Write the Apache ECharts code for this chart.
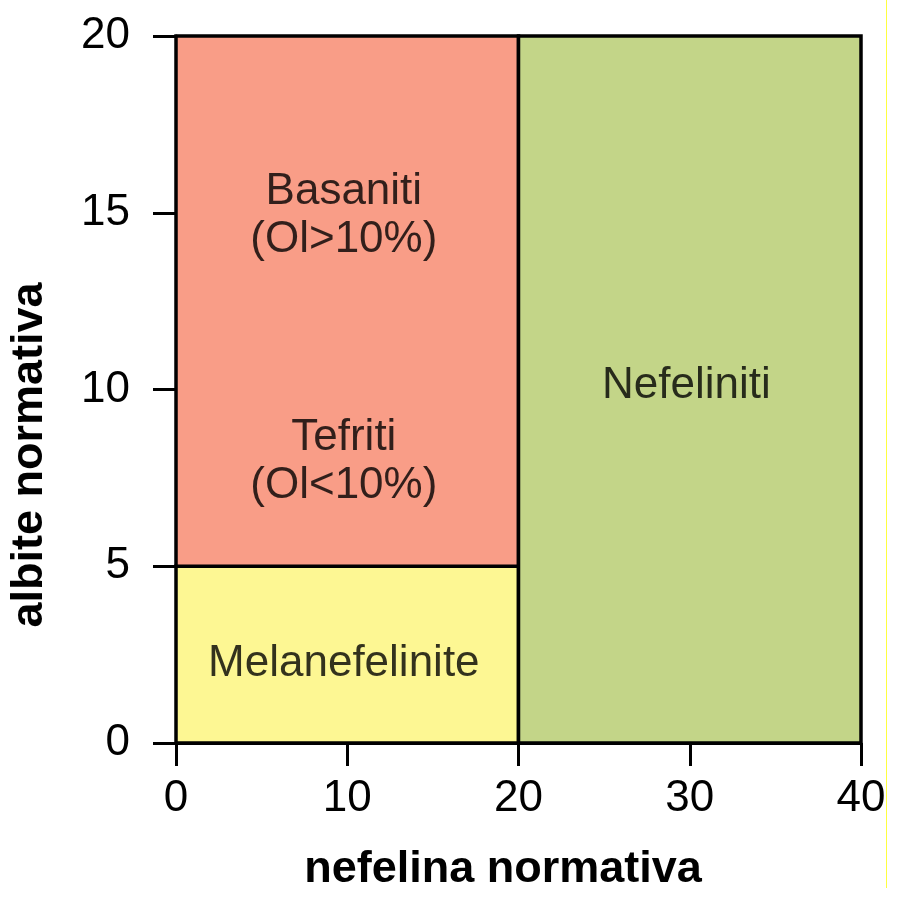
<!DOCTYPE html>
<html>
<head>
<meta charset="utf-8">
<script src="https://cdn.jsdelivr.net/npm/echarts@6/dist/echarts.min.js"></script>
<style>
  html, body { margin: 0; padding: 0; background: #fff; }
  #chart { width: 900px; height: 898px; }
</style>
</head>
<body>
<div id="chart"></div>
<script>
// axis ticks
var xTicks = [0, 10, 20, 30, 40];
var yTicks = [0, 5, 10, 15, 20];

// classification fields (x = nefelina, y = albite)
var fieldNames = ['Melanefelinite', 'Basaniti / Tefriti', 'Nefeliniti'];
var fieldX0 = [0, 0, 20];
var fieldX1 = [20, 20, 40];
var fieldY0 = [0, 5, 0];
var fieldY1 = [5, 20, 20];

// field labels
var labelText = ['Basaniti\n(Ol>10%)', 'Tefriti\n(Ol<10%)', 'Nefeliniti', 'Melanefelinite'];
var labelX = [9.8, 9.8, 29.8, 9.8];
var labelY = [14.9, 7.95, 10.1, 2.25];

var fieldColors = ['#fdf793', '#f99d87', '#c3d588'];
var FONT = 'Liberation Sans, Arial, sans-serif';

var fields = [];
for (var i = 0; i < fieldNames.length; i++) {
  fields.push({ name: fieldNames[i], value: [fieldX0[i], fieldX1[i], fieldY0[i], fieldY1[i]] });
}
var labels = [];
for (var j = 0; j < labelText.length; j++) {
  labels.push({ name: labelText[j], value: [labelX[j], labelY[j]] });
}

var chart = echarts.init(document.getElementById('chart'));
var option = {
  animation: false,
  backgroundColor: '#fff',
  grid: { left: 176, right: 39, top: 36, bottom: 155 },
  xAxis: {
    type: 'value', min: xTicks[0], max: xTicks[xTicks.length - 1], interval: 10,
    axisLine: { show: true, lineStyle: { color: '#000', width: 3 } },
    axisTick: { show: true, length: 23, lineStyle: { color: '#000', width: 3 } },
    axisLabel: { fontSize: 44, color: '#000', fontFamily: FONT, margin: 34 },
    splitLine: { show: false }
  },
  yAxis: {
    type: 'value', min: yTicks[0], max: yTicks[yTicks.length - 1], interval: 5,
    axisLine: { show: true, lineStyle: { color: '#000', width: 3 } },
    axisTick: { show: true, length: 23, lineStyle: { color: '#000', width: 3 } },
    axisLabel: { fontSize: 44, color: '#000', fontFamily: FONT, margin: 46 },
    splitLine: { show: false }
  },
  graphic: [
    {
      type: 'text', x: 503, y: 870, z: 10,
      style: { text: 'nefelina normativa', font: 'bold 45px ' + FONT, fill: '#000', align: 'center', verticalAlign: 'middle' }
    },
    {
      type: 'text', x: 30, y: 455, rotation: Math.PI / 2, z: 10,
      style: { text: 'albite normativa', font: 'bold 45px ' + FONT, fill: '#000', align: 'center', verticalAlign: 'middle' }
    },
    {
      type: 'line', z: 10,
      shape: { x1: 886.5, y1: 0, x2: 886.5, y2: 888 },
      style: { stroke: '#ffff40', lineWidth: 1 }
    }
  ],
  series: [
    {
      type: 'custom',
      data: fields,
      renderItem: function (params, api) {
        var p0 = api.coord([api.value(0), api.value(3)]);
        var p1 = api.coord([api.value(1), api.value(2)]);
        return {
          type: 'rect',
          shape: { x: p0[0], y: p0[1], width: p1[0] - p0[0], height: p1[1] - p0[1] },
          style: { fill: fieldColors[params.dataIndex], stroke: '#000', lineWidth: 3.5 }
        };
      },
      z: 2
    },
    {
      type: 'scatter',
      data: labels,
      symbolSize: 0,
      z: 5,
      label: {
        show: true, position: 'inside', formatter: '{b}',
        fontSize: 44, lineHeight: 48, color: '#000', fontFamily: FONT,
        textBorderWidth: 0
      }
    }
  ]
};
chart.setOption(option);
</script>
</body>
</html>
